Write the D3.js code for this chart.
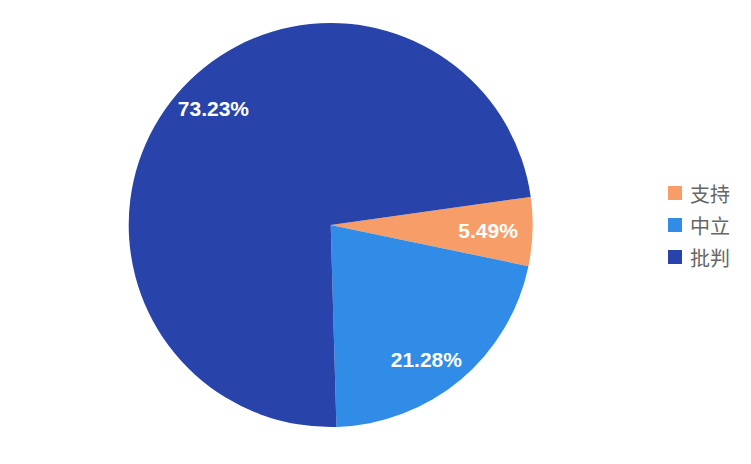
<!DOCTYPE html>
<html>
<head>
<meta charset="utf-8">
<script src="https://cdn.jsdelivr.net/npm/d3@7/dist/d3.min.js"></script>
<style>
  html, body { margin: 0; padding: 0; background: #fff; }
  svg { display: block; }
</style>
</head>
<body>
<svg id="chart" width="751" height="464"></svg>
<script>
const categories = ["支持", "中立", "批判"];
const values = [5.49, 21.28, 73.23];
const colors = ["#F79E68", "#318CE7", "#2844AA"];

const W = 751, H = 464;
const cx = 330.7, cy = 225, R = 202;
const startDeg = 82;
const labelR = 165;
const labelShift = 4.5 * Math.PI / 180;  // labels sit slightly clockwise of mid-angle
const edgeMargin = 14;

const svg = d3.select("#chart");
const g = svg.append("g").attr("transform", `translate(${cx},${cy})`);

const pie = d3.pie().sort(null).value(d => d.v)
  .startAngle(startDeg * Math.PI / 180)
  .endAngle(startDeg * Math.PI / 180 + 2 * Math.PI);
const data = categories.map((c, i) => ({ c, v: values[i], col: colors[i] }));
const arcs = pie(data);

const arc = d3.arc().innerRadius(0).outerRadius(R);

g.selectAll("path.slice").data(arcs).enter().append("path")
  .attr("class", "slice")
  .attr("d", arc)
  .attr("fill", d => d.data.col);

const labels = g.selectAll("text.lbl").data(arcs).enter().append("text")
  .attr("class", "lbl")
  .attr("text-anchor", "middle")
  .attr("dominant-baseline", "central")
  .attr("fill", "#fff")
  .attr("font-family", "Liberation Sans, Arial, sans-serif")
  .attr("font-weight", "bold")
  .attr("font-size", 21)
  .text(d => d.data.v.toFixed(2) + "%");

labels.each(function (d) {
  const w = this.getComputedTextLength();
  const h = 15;
  const mid = (d.startAngle + d.endAngle) / 2;
  const halfAng = Math.atan((w / 2) / labelR);
  let a = mid + labelShift;
  let r = labelR;
  const lo = d.startAngle + halfAng, hi = d.endAngle - halfAng;
  if (lo > hi) {
    // narrow slice: keep mid-angle, pull inward so the text box stays inside the disc
    a = mid;
    const dx = Math.sin(a), dy = -Math.cos(a);
    for (r = labelR; r > 0; r -= 0.5) {
      const x = r * dx, y = r * dy;
      const fx = Math.abs(x) + w / 2, fy = Math.abs(y) + h / 2;
      if (Math.hypot(fx, fy) <= R - edgeMargin) break;
    }
  } else {
    a = Math.max(lo, Math.min(hi, a));
  }
  d3.select(this).attr("transform", `translate(${r * Math.sin(a)},${-r * Math.cos(a)})`);
});

const legend = svg.append("g").attr("transform", "translate(668,186)");
const rowH = 32;
const items = legend.selectAll("g.item").data(data).enter().append("g")
  .attr("class", "item")
  .attr("transform", (d, i) => `translate(0,${i * rowH})`);
items.append("rect").attr("width", 14).attr("height", 14).attr("fill", d => d.col);
items.append("text")
  .attr("x", 22).attr("y", 7)
  .attr("dominant-baseline", "central")
  .attr("fill", "#666")
  .attr("font-family", "Noto Sans CJK SC, sans-serif")
  .attr("font-size", 20)
  .text(d => d.c);
</script>
</body>
</html>
